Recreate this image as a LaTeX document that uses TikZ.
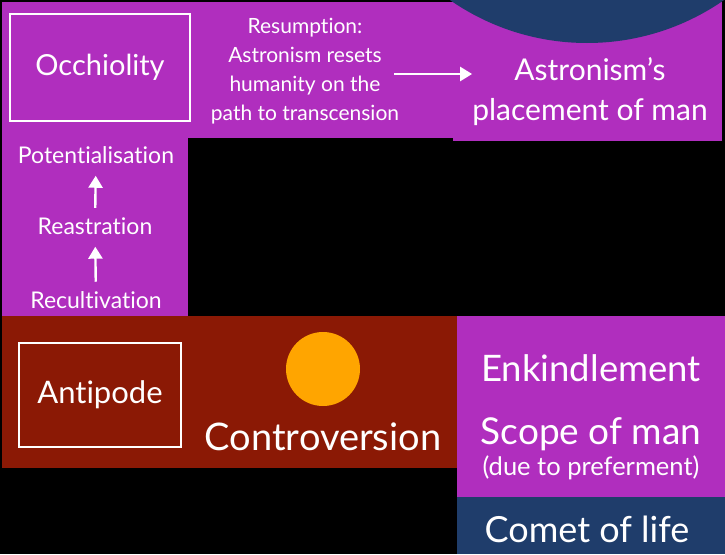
\documentclass[tikz,border=0pt]{standalone}
\usepackage{fontspec}
\setmainfont{Lato}[Ligatures={NoCommon}]
\usetikzlibrary{arrows.meta}

\definecolor{panelpurple}{HTML}{B02EBE}
\definecolor{panelred}{HTML}{8B1905}
\definecolor{panelblue}{HTML}{1F3D6B}
\definecolor{sunorange}{HTML}{FFA500}

\tikzstyle{label} = [text=white, align=center, inner sep=0pt]
\tikzstyle{framed label} = [label, draw=white, line width=1.6pt]
\tikzstyle{edge} = [draw=white, line width=2.4pt, -{Triangle[length=12pt,width=14pt]}]

\begin{document}
\begin{tikzpicture}[x=1pt, y=-1pt]
     % page and black ground
     \useasboundingbox (0,0) rectangle (725,554);
     \fill[black] (0,0) rectangle (725,554);
     % First we lay out the coloured panels
     \fill[panelpurple] (2,2) rectangle (453,138);
     \fill[panelpurple] (453,2) rectangle (722,141);
     \fill[panelpurple] (2,138) rectangle (188,316);
     \fill[panelred] (2,316) rectangle (457,468);
     \fill[panelpurple] (457,316) rectangle (725,497);
     \fill[panelblue] (457,497) rectangle (725,554);
     \begin{scope}
       \clip (0,0) rectangle (725,554);
       \fill[panelblue] (587,-197) circle (240);
     \end{scope}
     \fill[sunorange] (323,369) circle (37);

     % Then the labels
     \node[framed label, minimum width=180pt, minimum height=107pt,
       font=\fontsize{29}{34}\selectfont] (occhiolity) at (100,67.5) {Occhiolity};
     \node[framed label, minimum width=162pt, minimum height=104pt,
       font=\fontsize{31}{36}\selectfont] (antipode) at (100,395) {Antipode};
     \node[label, font=\fontsize{21}{29}\selectfont] (resumption) at (305,71)
       {Resumption:\\Astronism resets\\humanity on the\\path to transcension};
     \node[label, font=\fontsize{30}{40}\selectfont] (placement) at (590,92)
       {Astronism’s\\placement of man};

     \foreach \pos/\name/\text in {{(96,155)/potential/Potentialisation},
       {(95,226)/reastration/Reastration}, {(96,300)/recultivation/Recultivation}}
     \node[label, font=\fontsize{23}{27}\selectfont] (\name) at \pos {\text};

     \node[label, font=\fontsize{38}{44}\selectfont] (controversion) at (323,437) {Controversion};
     \node[label, font=\fontsize{36.5}{42}\selectfont] (enkindlement) at (591,368) {Enkindlement};
     \node[label, font=\fontsize{37}{42}\selectfont] (scope) at (591,434) {Scope of man};
     \node[label, font=\fontsize{25.5}{30}\selectfont] (preferment) at (591,468) {(due to preferment)};
     \node[label, font=\fontsize{36}{42}\selectfont] (comet) at (587,529) {Comet of life};

     % Connect the steps with arrows
     \foreach \source/\dest in {recultivation/reastration, reastration/potential}
     \path[edge, shorten <=9.5pt, shorten >=12pt] (\source) -- (\dest);
     \path[edge] (resumption.east |- 0,74) ++(-5,0) coordinate (resend)
       (resend) -- (placement.west |- resend);
\end{tikzpicture}
\end{document}
